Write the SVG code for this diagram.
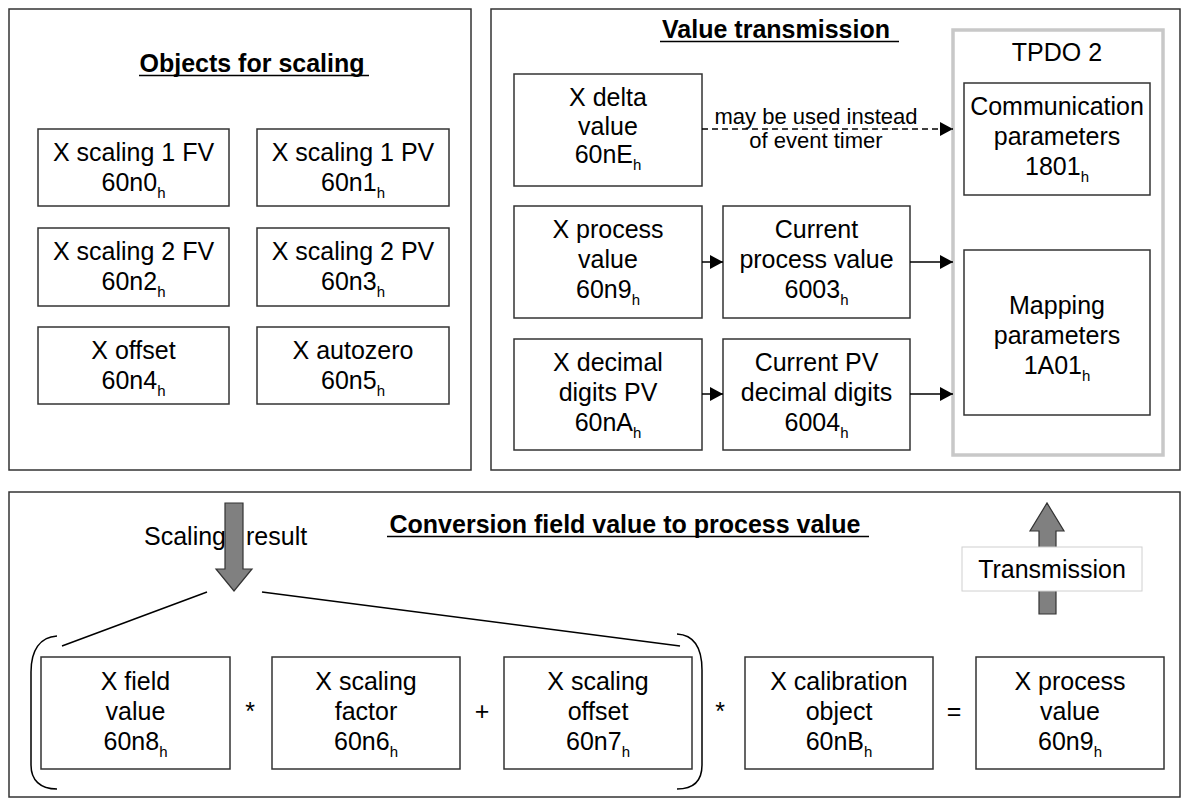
<svg xmlns="http://www.w3.org/2000/svg" width="1189" height="806" viewBox="0 0 1189 806">
<style>
.panel{fill:#fff;stroke:#333;stroke-width:1.5}
.box{fill:#fff;stroke:#333;stroke-width:1.5}
.t{font-family:"Liberation Sans",Arial,sans-serif;font-size:25px;fill:#000;text-anchor:middle}
.title{font-weight:bold}
.sub{font-size:15px}
.small{font-size:22px}
.ul{stroke:#000;stroke-width:1.5}
.conn{stroke:#000;stroke-width:1.5;fill:none}
.dash{stroke-dasharray:6 4}
.big{fill:#808080;stroke:#333;stroke-width:1.2}
</style>
<defs>
<marker id="ah" markerUnits="userSpaceOnUse" markerWidth="13" markerHeight="14" refX="13" refY="7" orient="auto">
<path d="M0,0 L13,7 L0,14 Z" fill="#000"/>
</marker>
</defs>
<rect width="1189" height="806" fill="#fff"/>

<g id="panel-objects">
<rect class="panel" x="9" y="9" width="462" height="461"/>
<text class="t title" x="252" y="72">Objects for scaling</text>
<line class="ul" x1="139" y1="75.5" x2="369" y2="75.5"/>
</g>
<g id="panel-transmission">
<rect class="panel" x="491" y="9" width="689" height="461"/>
<text class="t title" x="776" y="38">Value transmission</text>
<line class="ul" x1="660" y1="41.5" x2="899" y2="41.5"/>
</g>
<g id="panel-conversion">
<rect class="panel" x="9" y="492" width="1171" height="305"/>
<text class="t title" x="625" y="533">Conversion field value to process value</text>
<line class="ul" x1="387" y1="536.5" x2="869" y2="536.5"/>
</g>

<g id="n-60n0"><rect class="box" x="38" y="129" width="191" height="77"/>
<text class="t" x="133.5" y="161">X scaling 1 FV</text><text class="t" x="133.5" y="191">60n0<tspan class="sub" dy="7">h</tspan></text></g>
<g id="n-60n1"><rect class="box" x="257" y="129" width="192" height="77"/>
<text class="t" x="353" y="161">X scaling 1 PV</text><text class="t" x="353" y="191">60n1<tspan class="sub" dy="7">h</tspan></text></g>
<g id="n-60n2"><rect class="box" x="38" y="228" width="191" height="78"/>
<text class="t" x="133.5" y="260">X scaling 2 FV</text><text class="t" x="133.5" y="290">60n2<tspan class="sub" dy="7">h</tspan></text></g>
<g id="n-60n3"><rect class="box" x="257" y="228" width="192" height="78"/>
<text class="t" x="353" y="260">X scaling 2 PV</text><text class="t" x="353" y="290">60n3<tspan class="sub" dy="7">h</tspan></text></g>
<g id="n-60n4"><rect class="box" x="38" y="327" width="191" height="77"/>
<text class="t" x="133.5" y="359">X offset</text><text class="t" x="133.5" y="389">60n4<tspan class="sub" dy="7">h</tspan></text></g>
<g id="n-60n5"><rect class="box" x="257" y="327" width="192" height="77"/>
<text class="t" x="353" y="359">X autozero</text><text class="t" x="353" y="389">60n5<tspan class="sub" dy="7">h</tspan></text></g>

<g id="n-tpdo2"><rect x="953" y="30" width="210" height="425" fill="#fff" stroke="#c8c8c8" stroke-width="3.5"/>
<text class="t" x="1057" y="61">TPDO 2</text></g>
<g id="n-1801"><rect class="box" x="964" y="83" width="186" height="112"/>
<text class="t" x="1057" y="115">Communication</text><text class="t" x="1057" y="145">parameters</text><text class="t" x="1057" y="175">1801<tspan class="sub" dy="7">h</tspan></text></g>
<g id="n-1A01"><rect class="box" x="964" y="250" width="186" height="165"/>
<text class="t" x="1057" y="314">Mapping</text><text class="t" x="1057" y="344">parameters</text><text class="t" x="1057" y="374">1A01<tspan class="sub" dy="7">h</tspan></text></g>
<g id="n-60nE"><rect class="box" x="514" y="74" width="188" height="112"/>
<text class="t" x="608" y="106">X delta</text><text class="t" x="608" y="135">value</text><text class="t" x="608" y="163">60nE<tspan class="sub" dy="7">h</tspan></text></g>
<g id="n-60n9-src"><rect class="box" x="514" y="206" width="188" height="112"/>
<text class="t" x="608" y="238">X process</text><text class="t" x="608" y="268">value</text><text class="t" x="608" y="298">60n9<tspan class="sub" dy="7">h</tspan></text></g>
<g id="n-6003"><rect class="box" x="723" y="206" width="187" height="112"/>
<text class="t" x="816.5" y="238">Current</text><text class="t" x="816.5" y="268">process value</text><text class="t" x="816.5" y="298">6003<tspan class="sub" dy="7">h</tspan></text></g>
<g id="n-60nA"><rect class="box" x="514" y="339" width="188" height="111"/>
<text class="t" x="608" y="371">X decimal</text><text class="t" x="608" y="401">digits PV</text><text class="t" x="608" y="431">60nA<tspan class="sub" dy="7">h</tspan></text></g>
<g id="n-6004"><rect class="box" x="723" y="339" width="187" height="111"/>
<text class="t" x="816.5" y="371">Current PV</text><text class="t" x="816.5" y="401">decimal digits</text><text class="t" x="816.5" y="431">6004<tspan class="sub" dy="7">h</tspan></text></g>

<g id="n-60n8"><rect class="box" x="41" y="657" width="189" height="112"/>
<text class="t" x="135.5" y="690">X field</text><text class="t" x="135.5" y="720">value</text><text class="t" x="135.5" y="750">60n8<tspan class="sub" dy="7">h</tspan></text></g>
<g id="n-60n6"><rect class="box" x="272" y="657" width="188" height="112"/>
<text class="t" x="366" y="690">X scaling</text><text class="t" x="366" y="720">factor</text><text class="t" x="366" y="750">60n6<tspan class="sub" dy="7">h</tspan></text></g>
<g id="n-60n7"><rect class="box" x="504" y="657" width="188" height="112"/>
<text class="t" x="598" y="690">X scaling</text><text class="t" x="598" y="720">offset</text><text class="t" x="598" y="750">60n7<tspan class="sub" dy="7">h</tspan></text></g>
<g id="n-60nB"><rect class="box" x="745" y="657" width="188" height="112"/>
<text class="t" x="839" y="690">X calibration</text><text class="t" x="839" y="720">object</text><text class="t" x="839" y="750">60nB<tspan class="sub" dy="7">h</tspan></text></g>
<g id="n-60n9"><rect class="box" x="976" y="657" width="188" height="112"/>
<text class="t" x="1070" y="690">X process</text><text class="t" x="1070" y="720">value</text><text class="t" x="1070" y="750">60n9<tspan class="sub" dy="7">h</tspan></text></g>

<g id="operators">
<text class="t" x="250" y="720">*</text>
<text class="t" x="482" y="720">+</text>
<text class="t" x="720" y="720">*</text>
<text class="t" x="954" y="720">=</text>
<path class="conn" d="M57,636 C40,637 31,650 31,672 L31,765 C31,780 40,789 57,789"/>
<path class="conn" d="M677,634 C694,635 702,648 702,670 L702,765 C702,780 694,789 677,789"/>
</g>

<g id="scaling-result">
<text class="t" x="144" y="545" style="text-anchor:start">Scaling <tspan x="246">result</tspan></text>
<path class="big" d="M225,503 L243,503 L243,569 L252,569 L234,591 L216,569 L225,569 Z"/>
</g>
<g id="transmission">
<path class="big" d="M1039,614 L1056,614 L1056,531 L1064,531 L1047,503 L1030,531 L1039,531 Z"/>
<rect x="962" y="547" width="180" height="44" fill="#fff" stroke="#d0d0d0" stroke-width="1"/>
<text class="t" x="1052" y="578">Transmission</text>
</g>

<g id="connectors">
<line class="conn dash" x1="702" y1="129" x2="953" y2="129" marker-end="url(#ah)"/>
<text class="t small" x="816" y="124">may be used instead</text>
<text class="t small" x="816" y="148">of event timer</text>
<line class="conn" x1="702" y1="262" x2="723" y2="262" marker-end="url(#ah)"/>
<line class="conn" x1="910" y1="262" x2="953" y2="262" marker-end="url(#ah)"/>
<line class="conn" x1="702" y1="394" x2="723" y2="394" marker-end="url(#ah)"/>
<line class="conn" x1="910" y1="394" x2="953" y2="394" marker-end="url(#ah)"/>
<line class="conn" x1="207" y1="592" x2="62" y2="646"/>
<line class="conn" x1="262" y1="592" x2="680" y2="646"/>
</g>
</svg>
